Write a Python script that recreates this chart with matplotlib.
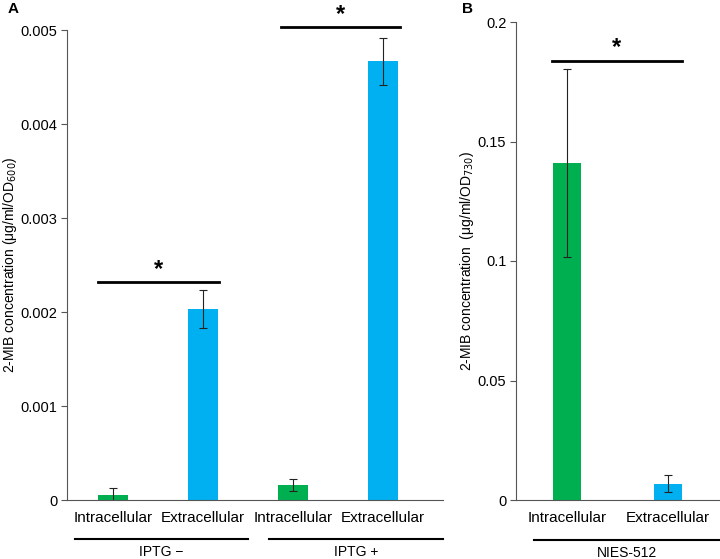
import numpy as np
import matplotlib.pyplot as plt

plt.rcParams['font.family'] = ['Liberation Sans', 'DejaVu Sans']

GREEN = '#00b050'
BLUE = '#00b0f0'

# panel A data
a_labels = ['Intracellular', 'Extracellular', 'Intracellular', 'Extracellular']
a_values = [0.000055, 0.00203, 0.00016, 0.00467]
a_errors = [0.00007, 0.0002, 0.00006, 0.00025]
a_colors = [GREEN, BLUE, GREEN, BLUE]
a_groups = ['IPTG \u2212', 'IPTG +']
a_ticks = [0, 0.001, 0.002, 0.003, 0.004, 0.005]

# panel B data
b_labels = ['Intracellular', 'Extracellular']
b_values = [0.141, 0.0068]
b_errors = [0.0395, 0.0035]
b_colors = [GREEN, BLUE]
b_group = 'NIES-512'
b_ticks = [0, 0.05, 0.1, 0.15, 0.2]

W, H = 720, 559
fig = plt.figure(figsize=(W / 100, H / 100), dpi=100)


def px_axes(l, t, r, b):
    return fig.add_axes([l / W, 1 - b / H, (r - l) / W, (b - t) / H])


def style(ax):
    for s in ['top', 'right']:
        ax.spines[s].set_visible(False)
    ax.spines['left'].set_color('#555555')
    ax.spines['bottom'].set_color('#555555')
    ax.spines['left'].set_linewidth(0.8)
    ax.spines['bottom'].set_linewidth(0.8)
    ax.tick_params(axis='y', direction='out', length=4, width=0.8,
                   color='#555555', labelsize=10.5, pad=3)
    ax.tick_params(axis='x', length=0, labelsize=11, pad=8)


def sig(ax, x0, x1, y, ystar):
    ax.plot([x0, x1], [y, y], color='black', lw=2, clip_on=False)
    ax.text((x0 + x1) / 2, ystar, '*', ha='center', va='center',
            fontsize=17, fontweight='bold', clip_on=False)


def group_line(ax, x0, x1, label):
    trans = ax.get_xaxis_transform()
    ax.plot([x0, x1], [-0.083, -0.083], color='black', lw=1.5,
            transform=trans, clip_on=False)
    ax.text((x0 + x1) / 2, -0.11, label, ha='center', va='center',
            fontsize=10, transform=trans)


# ---- panel A ----
axA = px_axes(67, 30, 443, 500)
xa = np.arange(len(a_values))
axA.bar(xa, a_values, width=0.33, color=a_colors, yerr=a_errors,
        error_kw=dict(ecolor='#222222', elinewidth=0.8, capsize=3, capthick=0.8))
axA.set_xlim(-0.51, 3.67)
axA.set_ylim(0, 0.005)
axA.set_yticks(a_ticks)
axA.set_yticklabels(['0', '0.001', '0.002', '0.003', '0.004', '0.005'])
axA.set_xticks(xa)
axA.set_xticklabels(a_labels)
style(axA)
axA.set_ylabel('2-MIB concentration (\u03bcg/ml/OD$_{600}$)', fontsize=10)
axA.yaxis.set_label_coords(-0.128, 0.5)
sig(axA, -0.16, 1.18, 0.00232, 0.00245)
sig(axA, 1.87, 3.19, 0.00503, 0.00516)
group_line(axA, -0.42, 1.5, a_groups[0])
group_line(axA, 1.74, 3.67, a_groups[1])
fig.text(8 / W, 1 - 9 / H, 'A', fontsize=11, fontweight='bold', va='center')

# ---- panel B ----
axB = px_axes(516, 22, 720, 500)
xb = np.arange(len(b_values))
axB.bar(xb, b_values, width=0.28, color=b_colors, yerr=b_errors,
        error_kw=dict(ecolor='#222222', elinewidth=0.8, capsize=3, capthick=0.8))
axB.set_xlim(-0.505, 1.515)
axB.set_ylim(0, 0.2)
axB.set_yticks(b_ticks)
axB.set_yticklabels(['0', '0.05', '0.1', '0.15', '0.2'])
axB.set_xticks(xb)
axB.set_xticklabels(b_labels)
style(axB)
axB.set_ylabel('2-MIB concentration  (\u03bcg/ml/OD$_{730}$)', fontsize=10)
axB.yaxis.set_label_coords(-0.196, 0.5)
sig(axB, -0.15, 1.14, 0.1837, 0.1895)
group_line(axB, -0.33, 1.515, b_group)
fig.text(462 / W, 1 - 9 / H, 'B', fontsize=11, fontweight='bold', va='center')

fig.savefig('out.png', dpi=100)
